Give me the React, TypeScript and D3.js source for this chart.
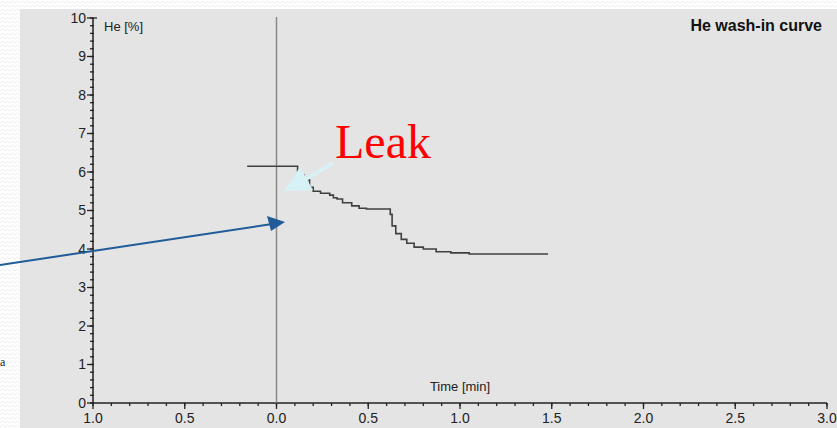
import React from "react";
import * as d3 from "d3";

const timeMin = [-0.16, 0.105, 0.115, 0.13, 0.15, 0.18, 0.2, 0.24, 0.29, 0.31, 0.33, 0.36, 0.41, 0.45, 0.49, 0.55, 0.615, 0.62, 0.63, 0.65, 0.68, 0.71, 0.75, 0.8, 0.87, 0.95, 1.05, 1.48];
const hePct = [6.15, 6.15, 6.02, 5.92, 5.8, 5.6, 5.5, 5.45, 5.4, 5.33, 5.3, 5.2, 5.12, 5.06, 5.04, 5.04, 5.04, 4.9, 4.6, 4.4, 4.25, 4.15, 4.05, 4.0, 3.93, 3.9, 3.87, 3.87];
const xTicks = [-1, -0.5, 0, 0.5, 1, 1.5, 2, 2.5, 3];
const yTicks = [0, 1, 2, 3, 4, 5, 6, 7, 8, 9, 10];
const title = "He wash-in curve";
const yLabel = "He [%]";
const xLabel = "Time [min]";
const annotation = "Leak";

const W = 837;
const H = 428;

export default function App() {
  const x = d3.scaleLinear().domain([-1, 3]).range([93, 827]);
  const y = d3.scaleLinear().domain([0, 10]).range([403, 18]);
  const line = d3
    .line<number>()
    .x((_, i) => x(timeMin[i]))
    .y((d) => y(d))
    .curve(d3.curveStepAfter);
  const minorX = d3.range(-1, 3.0001, 0.1).map((v) => +v.toFixed(2));
  const minorY = d3.range(0, 10.0001, 0.2).map((v) => +v.toFixed(2));
  const axisFont = "'Liberation Sans', Arial, sans-serif";

  return (
    <svg width={W} height={H} style={{ position: "absolute", left: 0, top: 0 }}>
      <defs>
        <pattern id="zz" width="10" height="8" patternUnits="userSpaceOnUse">
          <rect width="10" height="8" fill="#ffffff" />
          <path d="M0 3 L2.5 1 L5 3 L7.5 1 L10 3" stroke="#eeeeee" strokeWidth="1" fill="none" />
          <path d="M0 7 L2.5 5 L5 7 L7.5 5 L10 7" stroke="#eeeeee" strokeWidth="1" fill="none" />
        </pattern>
      </defs>
      <rect x={0} y={0} width={W} height={H} fill="url(#zz)" />
      <rect x={20} y={9} width={W - 20} height={H - 9} fill="#e4e4e4" />
      <text x={0} y={366} fontFamily="'Liberation Serif', serif" fontSize={12} fill="#222">a</text>

      {/* axes */}
      <line x1={x(-1)} x2={x(3)} y1={y(0)} y2={y(0)} stroke="#222" strokeWidth={1.5} />
      <line x1={x(-1)} x2={x(-1)} y1={y(0)} y2={y(10)} stroke="#222" strokeWidth={1.5} />
      {minorX.map((v) => (
        <line key={"mx" + v} x1={x(v)} x2={x(v)} y1={y(0)} y2={y(0) + 3} stroke="#222" strokeWidth={1.3} />
      ))}
      {xTicks.map((v) => (
        <g key={"x" + v}>
          <line x1={x(v)} x2={x(v)} y1={y(0)} y2={y(0) + 6} stroke="#222" strokeWidth={1.3} />
          <text x={x(v)} y={423} textAnchor="middle" fontFamily={axisFont} fontSize={14} fill="#222">
            {Math.abs(v).toFixed(1)}
          </text>
        </g>
      ))}
      {minorY.map((v) => (
        <line key={"my" + v} x1={x(-1) - 3} x2={x(-1) + 1} y1={y(v)} y2={y(v)} stroke="#222" strokeWidth={1.3} />
      ))}
      {yTicks.map((v) => (
        <g key={"y" + v}>
          <line x1={x(-1) - 6} x2={x(-1)} y1={y(v)} y2={y(v)} stroke="#222" strokeWidth={1.3} />
          <text x={x(-1) - 7} y={y(v)} dy="0.35em" textAnchor="end" fontFamily={axisFont} fontSize={14} fill="#222">
            {v}
          </text>
        </g>
      ))}
      <line x1={x(-1)} x2={x(-1) + 4} y1={y(10)} y2={y(10)} stroke="#222" strokeWidth={1.3} />

      <text x={104} y={31} fontFamily={axisFont} fontSize={13} fill="#222">{yLabel}</text>
      <text x={822} y={31} textAnchor="end" fontFamily={axisFont} fontSize={16} fontWeight="bold" fill="#111">{title}</text>
      <text x={460} y={391} textAnchor="middle" fontFamily={axisFont} fontSize={13} fill="#222">{xLabel}</text>

      {/* zero line */}
      <line x1={x(0)} x2={x(0)} y1={17} y2={y(0)} stroke="#888" strokeWidth={1.5} />

      {/* curve */}
      <path d={line(hePct) || ""} fill="none" stroke="#404040" strokeWidth={1.6} />

      {/* annotations */}
      <text x={335} y={158} fontFamily="'Liberation Serif', 'Times New Roman', serif" fontSize={48} fill="#ff0000">
        {annotation}
      </text>
      <line x1={333} y1={163} x2={303} y2={181} stroke="#d6f2f7" strokeWidth={3.5} />
      <polygon points="284,191 300,167 313,190" fill="#d6f2f7" />

      <line x1={0} y1={265} x2={272} y2={224} stroke="#1f5c99" strokeWidth={2} />
      <polygon points="285,222 267,216 271,231" fill="#1f5c99" />
    </svg>
  );
}
